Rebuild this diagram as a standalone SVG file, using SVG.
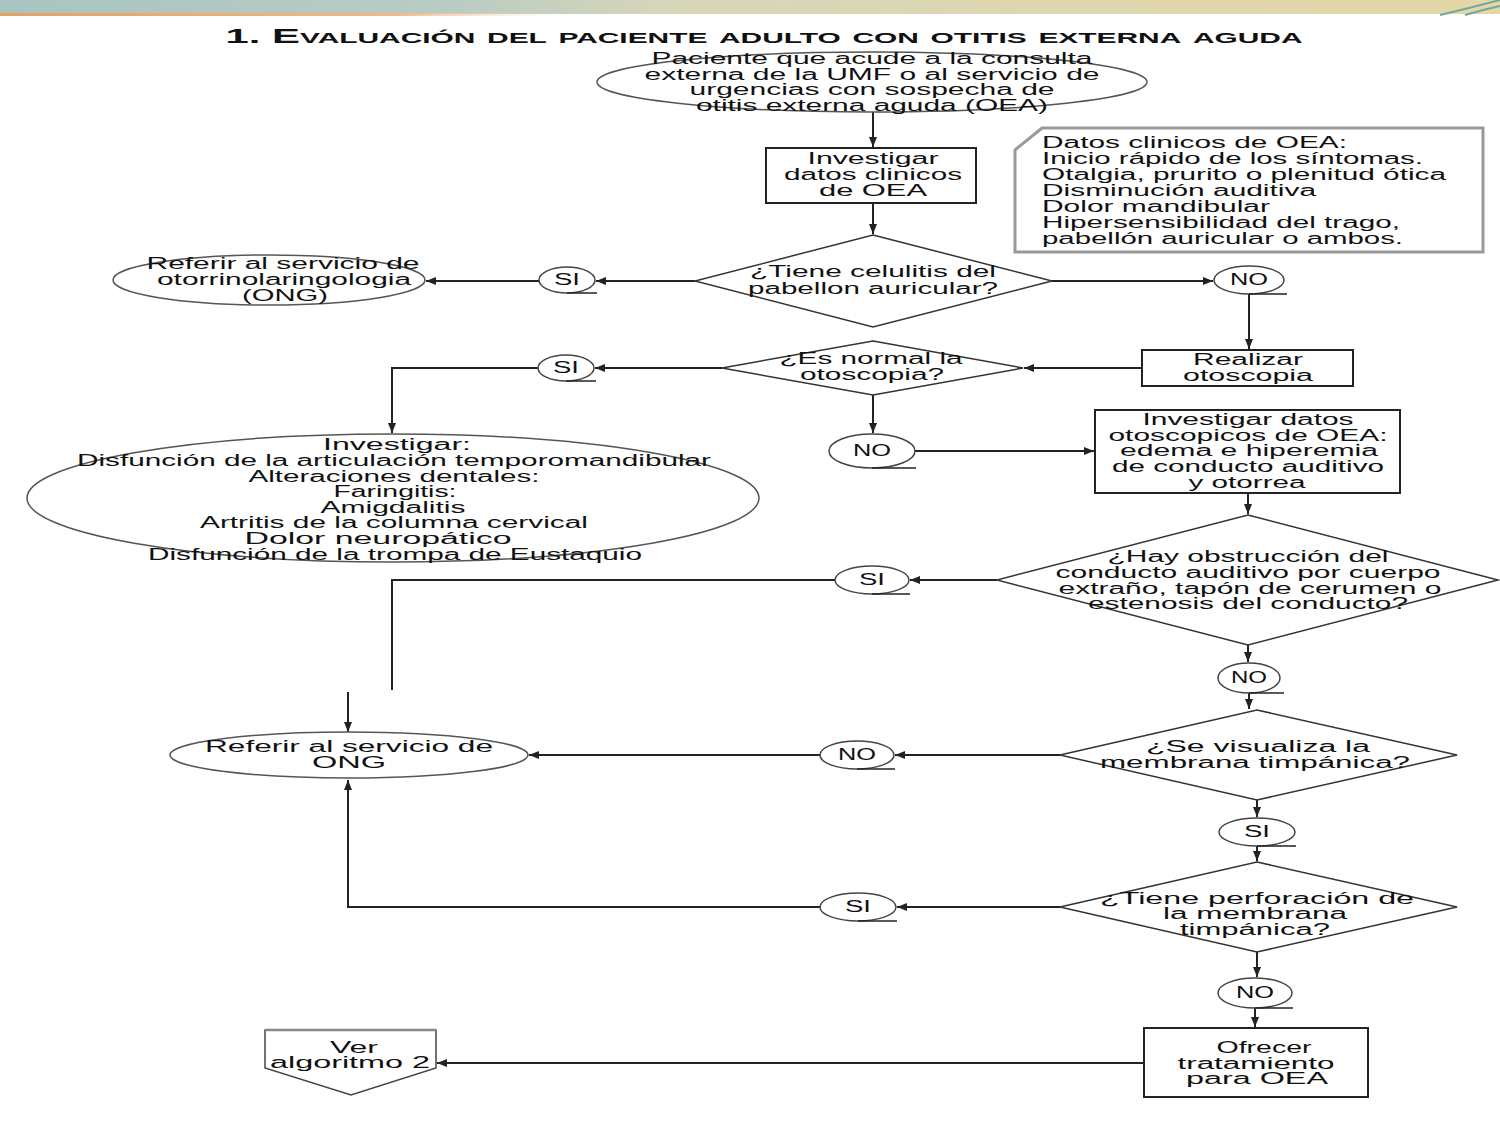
<svg xmlns="http://www.w3.org/2000/svg" width="1500" height="1125" viewBox="0 0 1500 1125">
<defs>
<linearGradient id="band" x1="0" y1="0" x2="1" y2="0">
<stop offset="0" stop-color="#a8c4c2"/>
<stop offset="0.3" stop-color="#b9ccc4"/>
<stop offset="0.45" stop-color="#d8d6b8"/>
<stop offset="1" stop-color="#e4d6a6"/>
</linearGradient>
<linearGradient id="orange" x1="0" y1="0" x2="1" y2="0">
<stop offset="0" stop-color="#e8a060"/>
<stop offset="0.7" stop-color="#f0b888"/>
<stop offset="1" stop-color="#f6d8c0" stop-opacity="0"/>
</linearGradient>
<marker id="ah" markerUnits="userSpaceOnUse" markerWidth="10" markerHeight="8" refX="10" refY="4" orient="auto">
<path d="M0,0 L10,4 L0,8 z" fill="#222"/>
</marker>
</defs>
<style>
text{font-family:"Liberation Sans",Arial,sans-serif;font-size:16px;fill:#111;text-anchor:middle}
.title{font-size:21px;font-weight:bold;font-variant:small-caps}
.left{text-anchor:start}
.box{fill:#fff;stroke:#222;stroke-width:2}
.dia{fill:#fff;stroke:#333;stroke-width:1.5}
.oval{fill:#fff;stroke:#555;stroke-width:1.5}
.lab{fill:#fff;stroke:#444;stroke-width:1.5}
.tick{stroke:#222;stroke-width:1.5}
.note{fill:#fff;stroke:#999;stroke-width:3}
.conn path{fill:none;stroke:#222;stroke-width:2}
</style>
<rect width="1500" height="1125" fill="#fff"/>
<g id="header">
<rect x="0" y="0" width="1500" height="14" fill="url(#band)"/>
<rect x="0" y="13" width="560" height="3" fill="url(#orange)"/>
<path d="M1440,15 Q1470,8 1500,0" fill="none" stroke="#6fa8a0" stroke-width="2"/>
<path d="M1465,15 Q1482,10 1500,6" fill="none" stroke="#6fa8a0" stroke-width="2"/>
</g>
<text class="title" x="764" y="43" textLength="1077" lengthAdjust="spacingAndGlyphs">1. Evaluación del paciente adulto con otitis externa aguda</text>

<g class="conn" id="connectors">
<path d="M873,112 V147" marker-end="url(#ah)"/>
<path d="M873,203 V234" marker-end="url(#ah)"/>
<path d="M695,281 H596" marker-end="url(#ah)"/>
<path d="M539,281 H426" marker-end="url(#ah)"/>
<path d="M1052,281 H1213" marker-end="url(#ah)"/>
<path d="M1249,294 V349" marker-end="url(#ah)"/>
<path d="M1142,368 H1024" marker-end="url(#ah)"/>
<path d="M722,368 H595" marker-end="url(#ah)"/>
<path d="M538,368 H392 V433" marker-end="url(#ah)"/>
<path d="M873,395 V433" marker-end="url(#ah)"/>
<path d="M915,451 H1094" marker-end="url(#ah)"/>
<path d="M1248,493 V514" marker-end="url(#ah)"/>
<path d="M997,580 H910" marker-end="url(#ah)"/>
<path d="M835,580 H392 V690"/>
<path d="M348,692 V732" marker-end="url(#ah)"/>
<path d="M1248,645 V662" marker-end="url(#ah)"/>
<path d="M1249,693 V709" marker-end="url(#ah)"/>
<path d="M1060,755 H895" marker-end="url(#ah)"/>
<path d="M820,755 H529" marker-end="url(#ah)"/>
<path d="M1257,800 V817" marker-end="url(#ah)"/>
<path d="M1257,846 V861" marker-end="url(#ah)"/>
<path d="M1060,907 H897" marker-end="url(#ah)"/>
<path d="M820,907 H348 V780" marker-end="url(#ah)"/>
<path d="M1257,952 V977" marker-end="url(#ah)"/>
<path d="M1255,1008 V1027" marker-end="url(#ah)"/>
<path d="M1144,1063 H437" marker-end="url(#ah)"/>
</g>

<g id="start">
<ellipse class="oval" cx="872" cy="82" rx="275" ry="30"/>
<text x="872" y="64" textLength="441" lengthAdjust="spacingAndGlyphs">Paciente que acude a la consulta</text>
<text x="872" y="80" textLength="455" lengthAdjust="spacingAndGlyphs">externa de la UMF o al servicio de</text>
<text x="872" y="95" textLength="365" lengthAdjust="spacingAndGlyphs">urgencias con sospecha de</text>
<text x="872" y="111" textLength="352" lengthAdjust="spacingAndGlyphs">otitis externa aguda (OEA)</text>
</g>

<g id="investigar1">
<rect class="box" x="766" y="148" width="210" height="55"/>
<text x="873" y="164" textLength="131" lengthAdjust="spacingAndGlyphs">Investigar</text>
<text x="873" y="180" textLength="178" lengthAdjust="spacingAndGlyphs">datos clinicos</text>
<text x="873" y="196" textLength="108" lengthAdjust="spacingAndGlyphs">de OEA</text>
</g>

<g id="nota">
<path class="note" d="M1042,128 H1483 V252 H1015 V150 Z"/>
<text class="left" x="1042" y="148" textLength="305" lengthAdjust="spacingAndGlyphs">Datos clinicos de OEA:</text>
<text class="left" x="1042" y="164" textLength="381" lengthAdjust="spacingAndGlyphs">Inicio rápido de los síntomas.</text>
<text class="left" x="1042" y="180" textLength="404" lengthAdjust="spacingAndGlyphs">Otalgia, prurito o plenitud ótica</text>
<text class="left" x="1042" y="196" textLength="274" lengthAdjust="spacingAndGlyphs">Disminución auditiva</text>
<text class="left" x="1042" y="212" textLength="228" lengthAdjust="spacingAndGlyphs">Dolor mandibular</text>
<text class="left" x="1042" y="228" textLength="358" lengthAdjust="spacingAndGlyphs">Hipersensibilidad del trago,</text>
<text class="left" x="1042" y="244" textLength="361" lengthAdjust="spacingAndGlyphs">pabellón auricular o ambos.</text>
</g>

<g id="celulitis">
<path class="dia" d="M873,235 L1052,281 L873,327 L695,281 Z"/>
<text x="873" y="277" textLength="246" lengthAdjust="spacingAndGlyphs">¿Tiene celulitis del</text>
<text x="873" y="294" textLength="250" lengthAdjust="spacingAndGlyphs">pabellon auricular?</text>
</g>

<g id="referir-orl">
<ellipse class="oval" cx="269" cy="280" rx="156" ry="25"/>
<text x="283" y="269" textLength="273" lengthAdjust="spacingAndGlyphs">Referir al servicio de</text>
<text x="284" y="285" textLength="254" lengthAdjust="spacingAndGlyphs">otorrinolaringologia</text>
<text x="285" y="301" textLength="86" lengthAdjust="spacingAndGlyphs">(ONG)</text>
</g>

<g id="si1"><ellipse class="lab" cx="567" cy="280" rx="28" ry="13"/><line class="tick" x1="567" y1="293" x2="597" y2="293"/><text x="567" y="285" textLength="26" lengthAdjust="spacingAndGlyphs">SI</text></g>
<g id="no1"><ellipse class="lab" cx="1249" cy="280" rx="35" ry="14"/><line class="tick" x1="1249" y1="294" x2="1287" y2="294"/><text x="1249" y="285" textLength="38" lengthAdjust="spacingAndGlyphs">NO</text></g>

<g id="realizar">
<rect class="box" x="1142" y="350" width="211" height="36"/>
<text x="1248" y="365" textLength="110" lengthAdjust="spacingAndGlyphs">Realizar</text>
<text x="1248" y="381" textLength="130" lengthAdjust="spacingAndGlyphs">otoscopia</text>
</g>

<g id="normal">
<path class="dia" d="M873,341 L1023,368 L873,395 L722,368 Z"/>
<text x="871" y="364" textLength="183" lengthAdjust="spacingAndGlyphs">¿Es normal la</text>
<text x="872" y="380" textLength="144" lengthAdjust="spacingAndGlyphs">otoscopia?</text>
</g>

<g id="si2"><ellipse class="lab" cx="566" cy="368" rx="28" ry="13"/><line class="tick" x1="566" y1="381" x2="596" y2="381"/><text x="566" y="373" textLength="26" lengthAdjust="spacingAndGlyphs">SI</text></g>

<g id="investigar-dx">
<ellipse class="oval" cx="393" cy="498" rx="366" ry="64"/>
<text x="397" y="450" textLength="148" lengthAdjust="spacingAndGlyphs">Investigar:</text>
<text x="394" y="466" textLength="634" lengthAdjust="spacingAndGlyphs">Disfunción de la articulación temporomandibular</text>
<text x="394" y="482" textLength="291" lengthAdjust="spacingAndGlyphs">Alteraciones dentales:</text>
<text x="395" y="497" textLength="123" lengthAdjust="spacingAndGlyphs">Faringitis:</text>
<text x="393" y="513" textLength="145" lengthAdjust="spacingAndGlyphs">Amigdalitis</text>
<text x="394" y="528" textLength="388" lengthAdjust="spacingAndGlyphs">Artritis de la columna cervical</text>
<text x="378" y="544" textLength="267" lengthAdjust="spacingAndGlyphs">Dolor neuropático</text>
<text x="395" y="560" textLength="494" lengthAdjust="spacingAndGlyphs">Disfunción de la trompa de Eustaquio</text>
</g>

<g id="no2"><ellipse class="lab" cx="872" cy="451" rx="43" ry="17"/><line class="tick" x1="872" y1="468" x2="916" y2="468"/><text x="872" y="456" textLength="38" lengthAdjust="spacingAndGlyphs">NO</text></g>

<g id="investigar2">
<rect class="box" x="1095" y="410" width="305" height="83"/>
<text x="1248" y="425" textLength="211" lengthAdjust="spacingAndGlyphs">Investigar datos</text>
<text x="1248" y="441" textLength="279" lengthAdjust="spacingAndGlyphs">otoscopicos de OEA:</text>
<text x="1249" y="456" textLength="258" lengthAdjust="spacingAndGlyphs">edema e hiperemia</text>
<text x="1248" y="472" textLength="272" lengthAdjust="spacingAndGlyphs">de conducto auditivo</text>
<text x="1247" y="488" textLength="117" lengthAdjust="spacingAndGlyphs">y otorrea</text>
</g>

<g id="obstruccion">
<path class="dia" d="M1248,515 L1498,580 L1248,645 L997,580 Z"/>
<text x="1248" y="562" textLength="281" lengthAdjust="spacingAndGlyphs">¿Hay obstrucción del</text>
<text x="1248" y="578" textLength="385" lengthAdjust="spacingAndGlyphs">conducto auditivo por cuerpo</text>
<text x="1250" y="594" textLength="383" lengthAdjust="spacingAndGlyphs">extraño, tapón de cerumen o</text>
<text x="1248" y="609" textLength="320" lengthAdjust="spacingAndGlyphs">estenosis del conducto?</text>
</g>

<g id="si3"><ellipse class="lab" cx="872" cy="580" rx="37" ry="14"/><line class="tick" x1="872" y1="594" x2="910" y2="594"/><text x="872" y="585" textLength="26" lengthAdjust="spacingAndGlyphs">SI</text></g>
<g id="no3"><ellipse class="lab" cx="1249" cy="678" rx="31" ry="15"/><line class="tick" x1="1249" y1="693" x2="1284" y2="693"/><text x="1249" y="683" textLength="36" lengthAdjust="spacingAndGlyphs">NO</text></g>

<g id="visualiza">
<path class="dia" d="M1257,710 L1457,755 L1257,800 L1060,755 Z"/>
<text x="1258" y="752" textLength="224" lengthAdjust="spacingAndGlyphs">¿Se visualiza la</text>
<text x="1255" y="768" textLength="310" lengthAdjust="spacingAndGlyphs">membrana timpánica?</text>
</g>

<g id="no4"><ellipse class="lab" cx="857" cy="755" rx="37" ry="14"/><line class="tick" x1="857" y1="769" x2="895" y2="769"/><text x="857" y="760" textLength="38" lengthAdjust="spacingAndGlyphs">NO</text></g>

<g id="referir-ong">
<ellipse class="oval" cx="349" cy="755" rx="179" ry="23"/>
<text x="349" y="752" textLength="288" lengthAdjust="spacingAndGlyphs">Referir al servicio de</text>
<text x="349" y="768" textLength="74" lengthAdjust="spacingAndGlyphs">ONG</text>
</g>

<g id="si4"><ellipse class="lab" cx="1257" cy="832" rx="38" ry="14"/><line class="tick" x1="1257" y1="846" x2="1296" y2="846"/><text x="1257" y="837" textLength="26" lengthAdjust="spacingAndGlyphs">SI</text></g>

<g id="perforacion">
<path class="dia" d="M1257,862 L1457,907 L1257,952 L1060,907 Z"/>
<text x="1257" y="904" textLength="314" lengthAdjust="spacingAndGlyphs">¿Tiene perforación de</text>
<text x="1255" y="919" textLength="184" lengthAdjust="spacingAndGlyphs">la membrana</text>
<text x="1255" y="935" textLength="150" lengthAdjust="spacingAndGlyphs">timpánica?</text>
</g>

<g id="si5"><ellipse class="lab" cx="858" cy="907" rx="38" ry="14"/><line class="tick" x1="858" y1="921" x2="897" y2="921"/><text x="858" y="912" textLength="26" lengthAdjust="spacingAndGlyphs">SI</text></g>
<g id="no5"><ellipse class="lab" cx="1255" cy="993" rx="37" ry="15"/><line class="tick" x1="1255" y1="1008" x2="1293" y2="1008"/><text x="1255" y="998" textLength="38" lengthAdjust="spacingAndGlyphs">NO</text></g>

<g id="tratamiento">
<rect class="box" x="1144" y="1028" width="224" height="69"/>
<text x="1264" y="1053" textLength="95" lengthAdjust="spacingAndGlyphs">Ofrecer</text>
<text x="1256" y="1069" textLength="157" lengthAdjust="spacingAndGlyphs">tratamiento</text>
<text x="1257" y="1084" textLength="142" lengthAdjust="spacingAndGlyphs">para OEA</text>
</g>

<g id="algoritmo2">
<path d="M265,1030 H436 V1068 L351,1095 L265,1068 Z" fill="#fff" stroke="#444" stroke-width="1.5"/>
<line x1="265" y1="1030" x2="436" y2="1030" stroke="#888" stroke-width="2.5"/>
<text x="354" y="1053" textLength="48" lengthAdjust="spacingAndGlyphs">Ver</text>
<text x="350" y="1068" textLength="160" lengthAdjust="spacingAndGlyphs">algoritmo 2</text>
</g>
</svg>
